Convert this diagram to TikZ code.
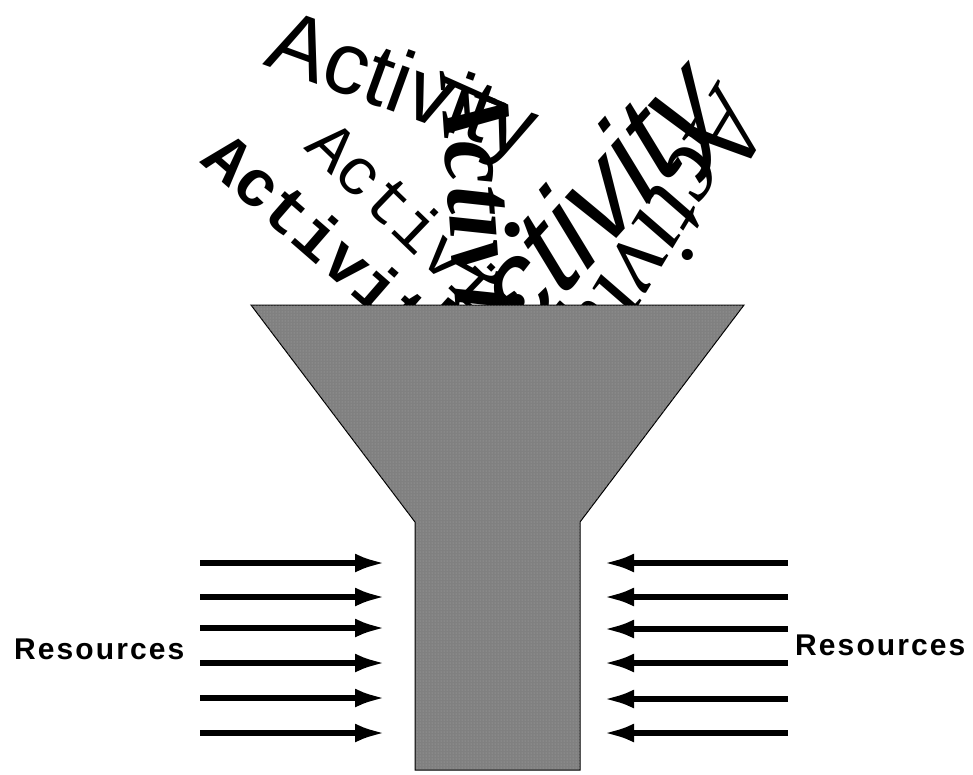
\documentclass[tikz,border=0pt]{standalone}
\usepackage{fontspec}
\usetikzlibrary{arrows.meta,patterns}
\newfontfamily\arialf{Liberation Sans}
\newfontfamily\arialbf{Liberation Sans Bold}
\newfontfamily\courf{Liberation Mono}
\newfontfamily\courbf{Liberation Mono Bold}
\newfontfamily\timesi{Liberation Serif Italic}
\newfontfamily\timesbi{Liberation Serif Bold Italic}
\newcommand{\fsz}[1]{\fontsize{#1}{#1}\selectfont}
\begin{document}
\begin{tikzpicture}[x=1pt,y=1pt,
  word/.style={inner sep=0pt,anchor=base west},
  resarrow/.style={line width=5.5pt,-{Latex[length=30pt,width=19pt]}},
  reslabel/.style={inner sep=0pt,anchor=base west,font=\arialbf\fsz{30}\addfontfeature{LetterSpace=7}},
  funnel/.style={draw=black,line width=1pt,fill={rgb,255:red,128;green,128;blue,128},
     postaction={pattern=dots,pattern color={rgb,255:red,170;green,170;blue,170}}}]
\useasboundingbox (0,0) rectangle (973,-774);
\begin{scope}
\clip (0,0) rectangle (973,-305);
\node[word,rotate=-20,font=\arialf\fsz{88}] (w1) at (262,-64) {Activity};
\node[word,rotate=-41,font=\courbf\fsz{66}] (w2) at (199,-162) {Activity};
\node[word,rotate=-44,font=\courf\fsz{66}] (w3) at (303,-148) {Activity};
\node[word,rotate=-86,font=\timesbi\fsz{100}] (w6) at (440,-76) {Activity};
\begin{scope}[shift={(462,-410)}]
\node[word,rotate=48,xslant=0.3,font=\arialf\fsz{124}] (w4) at (0,0) {Activity};
\end{scope}
\node[word,rotate=-121,font=\timesi\fsz{105}] (w5) at (716,-84) {Activity};
\end{scope}
\path[funnel] (251,-305) -- (744,-305) -- (580,-522) -- (580,-770) -- (415,-770) -- (415,-522) -- cycle;
\node[reslabel] (rl) at (14,-659) {Resources};
\node[reslabel] (rr) at (795,-655) {Resources};
\foreach \i/\y in {1/563,2/597,3/628,4/663,5/698,6/733}{
  \coordinate (lt\i) at (200,-\y);
  \coordinate (lh\i) at (385,-\y);
  \draw[resarrow] (lt\i) -- (lh\i);
}
\foreach \i/\y in {1/563,2/597,3/629,4/663,5/699,6/733}{
  \coordinate (rt\i) at (788,-\y);
  \coordinate (rh\i) at (604,-\y);
  \draw[resarrow] (rt\i) -- (rh\i);
}
\end{tikzpicture}
\end{document}
